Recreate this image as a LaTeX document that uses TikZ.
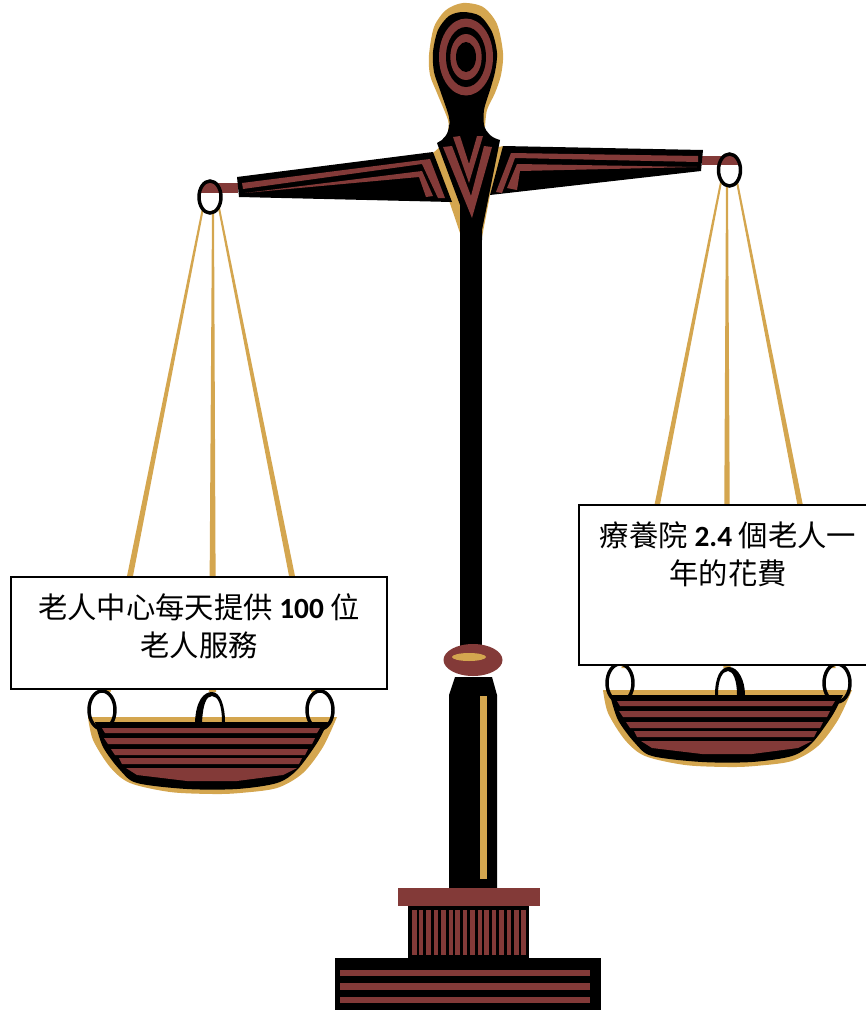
\documentclass[tikz,border=0pt]{standalone}
\usepackage{fontspec}
\setmainfont{Carlito}
\newfontfamily\cjkfont{Noto Sans CJK TC}
\definecolor{maroon}{HTML}{833A38}
\definecolor{goldc}{HTML}{D4A64F}
\newcommand{\cj}[1]{{\cjkfont #1}}
\newcommand{\taperrope}[4]{\fill[goldc] (#1-1,#2) -- (#1+1,#2) -- (#3+3.6,#4) -- (#3-3.6,#4) -- cycle;}
\tikzset{
  ringline/.style={draw=black,line width=2.6pt},
  labelbox/.style={draw=black,line width=1.1pt,fill=white},
  labeltext/.style={font=\fontsize{22}{29}\selectfont,align=center,anchor=north,inner sep=0pt,text=black}
}
\newcommand{\basketparts}{%
  \fill[goldc] (88,717) -- (337,717) -- plot[smooth] coordinates {(337,717) (323,747) (303,773) (277,788) (240,793) (213,794) (170,792) (130,783) (110,767) (93,740) (88,717)} -- cycle;
}
\newcommand{\basketfront}{%
  \fill[black] (95,722) -- (328,722) -- plot[smooth] coordinates {(328,722) (317,743) (297,770) (277,783) (237,789) (187,789) (137,783) (120,770) (103,747) (95,722)} -- cycle;
  \fill[maroon] (102,728) -- (320,728) -- (317,733) -- (105,733) -- cycle;
  \fill[maroon] (104,738) -- (315,738) -- (312,744) -- (108,744) -- cycle;
  \fill[maroon] (111,749) -- (308,749) -- (305,755) -- (115,755) -- cycle;
  \fill[maroon] (119,758) -- (302,758) -- (299,764) -- (122,764) -- cycle;
  \fill[maroon] (126,768) -- (297,768) -- (283,775) -- (237,781) -- (187,781) -- (137,775) -- cycle;
}
\begin{document}
\begin{tikzpicture}[x=0.75pt,y=-0.75pt]
\useasboundingbox (0,0) rectangle (866,1010);
\clip (0,0) rectangle (866,1010);
% ropes
\taperrope{203}{208}{107}{692}
\taperrope{213}{210}{212.5}{692}
\taperrope{219}{208}{315}{692}
\taperrope{721}{182}{625}{668}
\taperrope{727}{185}{727}{668}
\taperrope{737}{182}{832}{668}
% stem
\fill[black] (460,200) rectangle (482,650);
% gold head and collar
\fill[goldc] plot[smooth] coordinates {(448,130) (448,120) (437,93) (430,75) (429,55) (434,27) (446,10) (463,3) (483,7) (497,24) (503,53) (501,75) (495,93) (487,110) (485,127)} -- cycle;
\fill[goldc] (433,153) -- (441,146) -- (462,200) -- (460,233) -- cycle;
\fill[goldc] (498,147) -- (504,146) -- (490,195) -- (482,237) -- (478,200) -- cycle;
% arm bars
\begin{scope}
\clip (210,197) ellipse (12 and 17);
\fill[maroon] (190,183) rectangle (240,193);
\end{scope}
\fill[maroon] (218,183) rectangle (238,193);
\begin{scope}
\clip (729.5,170) ellipse (12 and 17);
\fill[maroon] (715,156) rectangle (745,165);
\end{scope}
\fill[maroon] (702,156) rectangle (722,165);
% left arm
\fill[black] (237,177) -- (433,152) -- (452,202) -- (239,197) -- cycle;
\fill[maroon] (242,183) -- (430,159) -- (445,198) -- (438,198) -- (422,164) -- (243,189) -- cycle;
\fill[maroon] (245,193) -- (422,171) -- (433,196) -- (426,197) -- (419,177) -- cycle;
% right arm
\fill[black] (503,146) -- (703,150) -- (701,171) -- (490,195) -- cycle;
\fill[maroon] (496,192) -- (511,153) -- (698,156) -- (698,162) -- (515,158) -- (502,193) -- cycle;
\fill[maroon] (507,188) -- (517,164) -- (697,167) -- (520,171) -- (517,190) -- cycle;
% black head and collar
\fill[black] plot[smooth] coordinates {(449,130) (449,117) (440,90) (434,72) (433,52) (438,30) (449,16) (463,12) (480,16) (492,32) (497,53) (495,72) (490,90) (484,110) (484,128)} -- cycle;
\fill[black] (449,125) .. controls (449,133) and (444,140) .. (437,143) -- (460,205) -- (460,240) -- (482,240) -- (482,230) -- (500,140) .. controls (492,138) and (486,133) .. (484,125) -- cycle;
% head rings
\fill[maroon] (466,57) ellipse (27 and 38.5);
\fill[black] (466,57) ellipse (20 and 30);
\fill[maroon] (466,57) ellipse (15.7 and 23);
\fill[black] (466,57) ellipse (10 and 15);
% chevrons
\fill[maroon] (443,147) -- (452,146) -- (471,196) -- (484,146) -- (492,147) -- (472,218) -- cycle;
\fill[maroon] (453,137) -- (460,136) -- (469,164) -- (477,136) -- (483,136) -- (469,183) -- cycle;
% arm rings
\draw[ringline] (210,197) ellipse (11 and 16);
\draw[ringline] (729.5,170) ellipse (11 and 16);
% lower column
\fill[black] (455,677) -- (492,677) -- (497,695) -- (497,890) -- (449,890) -- (449,695) -- cycle;
\fill[goldc] (480,696) rectangle (487,879);
\fill[maroon] (473,660) ellipse (29.5 and 16);
\fill[goldc] (469,657) ellipse (17 and 4);
% base
\fill[maroon] (398,888) rectangle (540,906);
\fill[black] (408,906) rectangle (529,958);
\foreach \a/\b in {412/417,419/423,426/431,434/438,441/446,449/453,455/460,463/467,470/475,478/482,484/489,492/496,499/504,507/511,514/519,521/526}
  \fill[maroon] (\a,910) rectangle (\b,955);
\fill[black] (335,958) rectangle (601,1010);
\fill[maroon] (340,970) rectangle (590,976);
\fill[maroon] (340,983) rectangle (590,990);
\fill[maroon] (340,997) rectangle (590,1003);
% left basket
\basketparts
\draw[ringline] (102,710) ellipse (13 and 19);
\draw[ringline] (320,710) ellipse (13 and 19);
\basketfront
\fill[black] (195,722) .. controls (196,700) and (204,692) .. (212,692) .. controls (220,692) and (225,705) .. (225,722) -- (222,722) .. controls (222,705) and (218,696) .. (212,696) .. controls (206,696) and (203,705) .. (202,722) -- cycle;
% right basket
\begin{scope}[shift={(515,-27)}]
\basketparts
\draw[ringline] (105,710) ellipse (13 and 19);
\draw[ringline] (322,710) ellipse (13 and 19);
\basketfront
\end{scope}
\fill[black] (715,695) .. controls (715,678) and (720,667) .. (729,667) .. controls (738,667) and (745,680) .. (745,695) -- (737,695) .. controls (737,680) and (733,671) .. (728,671) .. controls (722,671) and (718,680) .. (718,695) -- cycle;
% label boxes
\path[labelbox] (11,577) rectangle (387,689);
\path[labelbox] (579,505) rectangle (880,665);
\node[labeltext] (leftlabel) at (199,593) {\cj{老人中心每天提供} \textbf{100} \cj{位}\\\cj{老人服務}};
\node[labeltext] (rightlabel) at (728,521) {\cj{療養院} \textbf{2.4} \cj{個老人一}\\\cj{年的花費}};
\end{tikzpicture}
\end{document}
